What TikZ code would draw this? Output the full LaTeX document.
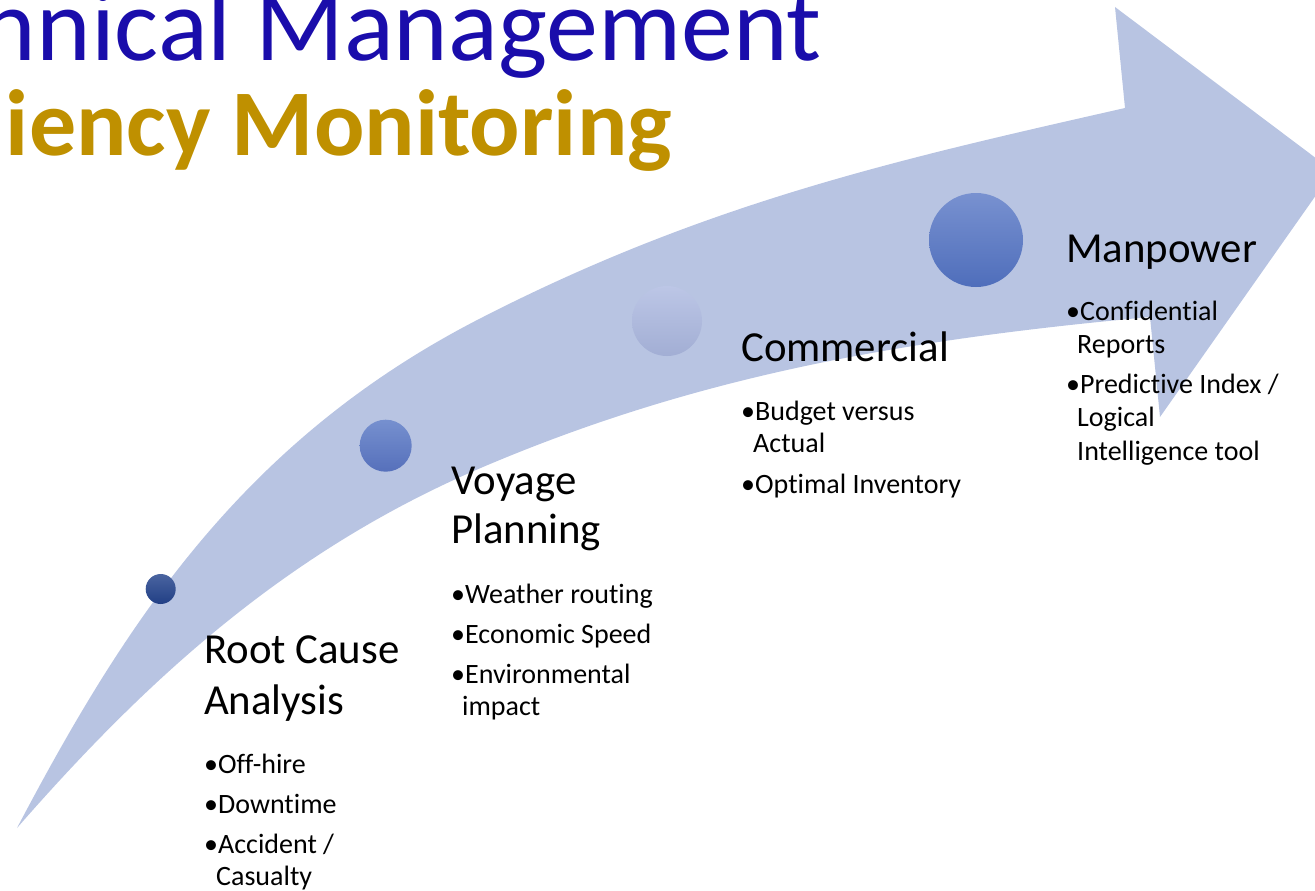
\documentclass[tikz,border=0pt]{standalone}
\usepackage{fontspec}
\setmainfont{Carlito}[Ligatures={NoCommon}]
\definecolor{arrowfill}{HTML}{B8C4E2}
\definecolor{titleblue}{HTML}{1A0DAB}
\definecolor{titlegold}{HTML}{BF9000}
\definecolor{dotAtop}{RGB}{74,100,160}
\definecolor{dotAbot}{RGB}{33,63,133}
\definecolor{dotBtop}{RGB}{118,144,207}
\definecolor{dotBbot}{RGB}{86,112,187}
\definecolor{dotCtop}{RGB}{188,198,230}
\definecolor{dotCbot}{RGB}{162,174,212}
\definecolor{dotDtop}{RGB}{120,145,208}
\definecolor{dotDbot}{RGB}{79,110,187}
\begin{document}
\begin{tikzpicture}[x=1pt,y=-1pt,
  head/.style={anchor=base west, inner sep=0, font=\fontsize{42.8}{50}\selectfont},
  item/.style={anchor=base west, inner sep=0, font=\fontsize{28}{33}\selectfont},
  dot/.style={circle, inner sep=0, draw=none}]
\useasboundingbox (0,0) rectangle (1315,891);
\clip (0,0) rectangle (1315,891);
% curved arrow
\fill[arrowfill] (17,828)
  .. controls (125,623) and (243,439) .. (483,317)
  .. controls (708,202) and (900,159) .. (1125,108)
  -- (1115,7) -- (1333,171) -- (1160,417) -- (1150,317)
  .. controls (900,340) and (697,376) .. (483,467)
  .. controls (283,552) and (142,685) .. (17,828) -- cycle;
% title
\node[anchor=base east, inner sep=0, text=titleblue, font=\fontsize{104}{104}\selectfont] (t1) at (822,60) {nnical Management};
\node[anchor=base east, inner sep=0, text=titlegold, font=\bfseries\fontsize{94}{94}\selectfont] (t2) at (672,155) {iency Monitoring};
% dots
\node[dot, minimum size=30, top color=dotAtop, bottom color=dotAbot] (d1) at (160.7,589) {};
\node[dot, minimum size=52, top color=dotBtop, bottom color=dotBbot] (d2) at (385.7,445.7) {};
\node[dot, minimum size=70, top color=dotCtop, bottom color=dotCbot] (d3) at (667,321) {};
\node[dot, minimum size=94, top color=dotDtop, bottom color=dotDbot] (d4) at (976,240) {};
% Root Cause Analysis
\node[head] (h1a) at (204,663) {Root Cause};
\node[head] (h1b) at (204,714) {Analysis};
\node[item] (i1a) at (204,773) {•Off-hire};
\node[item] (i1b) at (204,813) {•Downtime};
\node[item] (i1c) at (204,853) {•Accident /};
\node[item] (i1d) at (216,885) {Casualty};
% Voyage Planning
\node[head] (h2a) at (451,494) {Voyage};
\node[head] (h2b) at (451,543) {Planning};
\node[item] (i2a) at (451,603) {•Weather routing};
\node[item] (i2b) at (451,643) {•Economic Speed};
\node[item] (i2c) at (451,683) {•Environmental};
\node[item] (i2d) at (462,715) {impact};
% Commercial
\node[head] (h3a) at (741,361) {Commercial};
\node[item] (i3a) at (741,420) {•Budget versus};
\node[item] (i3b) at (753,452) {Actual};
\node[item] (i3c) at (741,493) {•Optimal Inventory};
% Manpower
\node[head] (h4a) at (1066,262) {Manpower};
\node[item] (i4a) at (1066,320) {•Confidential};
\node[item] (i4b) at (1077,353) {Reports};
\node[item] (i4c) at (1066,393) {•Predictive Index /};
\node[item] (i4d) at (1077,426) {Logical};
\node[item] (i4e) at (1077,460) {Intelligence tool};
\end{tikzpicture}
\end{document}
